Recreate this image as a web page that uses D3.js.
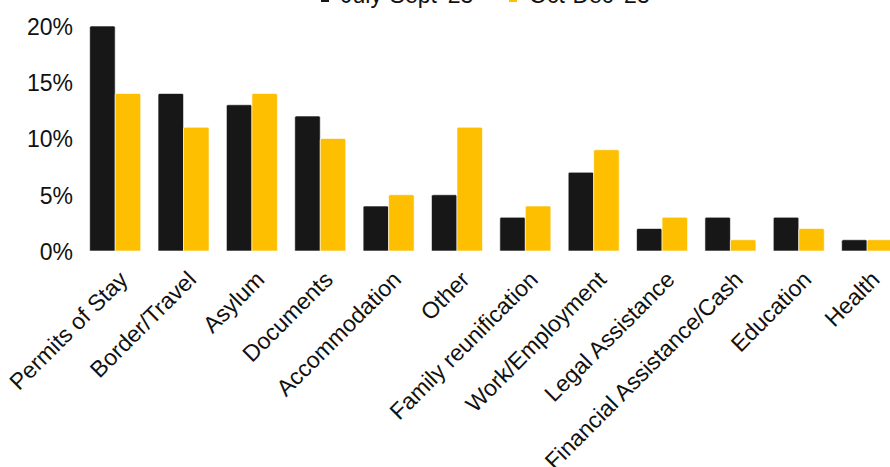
<!DOCTYPE html>
<html>
<head>
<meta charset="utf-8">
<script src="https://cdn.jsdelivr.net/npm/d3@7"></script>
<style>
  body { margin: 0; background: #fff; }
  svg text { font-family: "Liberation Sans", Arial, Helvetica, sans-serif; fill: #111; }
</style>
</head>
<body>
<div id="chart"></div>
<script>
// categories and the two quarters (share of requests, %)
var categories = ["Permits of Stay", "Border/Travel", "Asylum", "Documents", "Accommodation",
  "Other", "Family reunification", "Work/Employment", "Legal Assistance",
  "Financial Assistance/Cash", "Education", "Health"];
var seriesNames = ["July-Sept '23", "Oct-Dec '23"];
var julySept = [20, 14, 13, 12, 4, 5, 3, 7, 2, 3, 3, 1];
var octDec = [14, 11, 14, 10, 5, 11, 4, 9, 3, 1, 2, 1];
var yTicks = [0, 5, 10, 15, 20];

var colors = ["#171717", "#FDBF00"];

var svgWidth = 890, svgHeight = 467;
var margin = { top: 26, left: 81, bottom: 216 };
var chartHeight = 251 - margin.top;
var fontSize = "23px";

var svg = d3.select("#chart").append("svg")
  .attr("width", svgWidth)
  .attr("height", svgHeight);

var g = svg.append("g")
  .attr("transform", `translate(0,${margin.top})`);

var data = categories.map(function (c, i) {
  return { cat: c, vals: [julySept[i], octDec[i]] };
});

// x scales: categories, then the two series inside
var x0 = d3.scaleBand()
  .domain(categories)
  .range([margin.left, margin.left + 12 * 68.36])
  .paddingInner(0.254)
  .paddingOuter(0.127);

var x1 = d3.scaleBand()
  .domain([0, 1])
  .range([0, x0.bandwidth()]);

var y = d3.scaleLinear()
  .domain([0, 20])
  .range([chartHeight, 0]);

// y axis, labels only
var yAxis = d3.axisLeft(y)
  .tickValues(yTicks)
  .tickFormat(function (d) { return d + "%"; })
  .tickSize(0)
  .tickPadding(0);

var yG = g.append("g")
  .attr("transform", "translate(73,0)")
  .call(yAxis);
yG.select(".domain").remove();
yG.selectAll("text")
  .attr("font-size", fontSize)
  .attr("dy", "0.36em")
  .style("font-family", "'Liberation Sans', Arial, sans-serif")
  .attr("fill", "#111");

// bars
var groups = g.selectAll(".grp")
  .data(data)
  .enter().append("g")
  .attr("class", "grp")
  .attr("transform", function (d) { return `translate(${x0(d.cat)},0)`; });

groups.selectAll("path")
  .data(function (d) { return d.vals.map(function (v, k) { return { k: k, v: v }; }); })
  .enter().append("path")
  .attr("fill", function (d) { return colors[d.k]; })
  .attr("stroke", "#fff")
  .attr("stroke-width", 0.6)
  .attr("d", function (d) {
    var bx = x1(d.k), bw = x1.bandwidth();
    var top = y(d.v), bot = y(0), r = 1.5;
    return `M${bx},${bot} V${top + r} Q${bx},${top} ${bx + r},${top} H${bx + bw - r} Q${bx + bw},${top} ${bx + bw},${top + r} V${bot} Z`;
  });

// x axis labels, rotated
var xAxis = d3.axisBottom(x0).tickSize(0).tickPadding(0);
var xG = g.append("g")
  .attr("transform", `translate(0,${chartHeight})`)
  .call(xAxis);
xG.select(".domain").remove();
xG.selectAll("text")
  .attr("font-size", fontSize)
  .style("font-family", "'Liberation Sans', Arial, sans-serif")
  .attr("fill", "#111")
  .attr("text-anchor", "end")
  .attr("dy", "0")
  .attr("y", 0)
  .attr("transform", "translate(14,30) rotate(-45)");

// legend, clipped at the top like the original
var legendX = [321, 509];
var legend = svg.append("g");
seriesNames.forEach(function (name, i) {
  legend.append("rect")
    .attr("x", legendX[i])
    .attr("y", -6)
    .attr("width", 8)
    .attr("height", 8)
    .attr("fill", colors[i]);
  legend.append("text")
    .attr("x", legendX[i] + 20)
    .attr("y", 3)
    .attr("font-size", fontSize)
    .text(name);
});
</script>
</body>
</html>
